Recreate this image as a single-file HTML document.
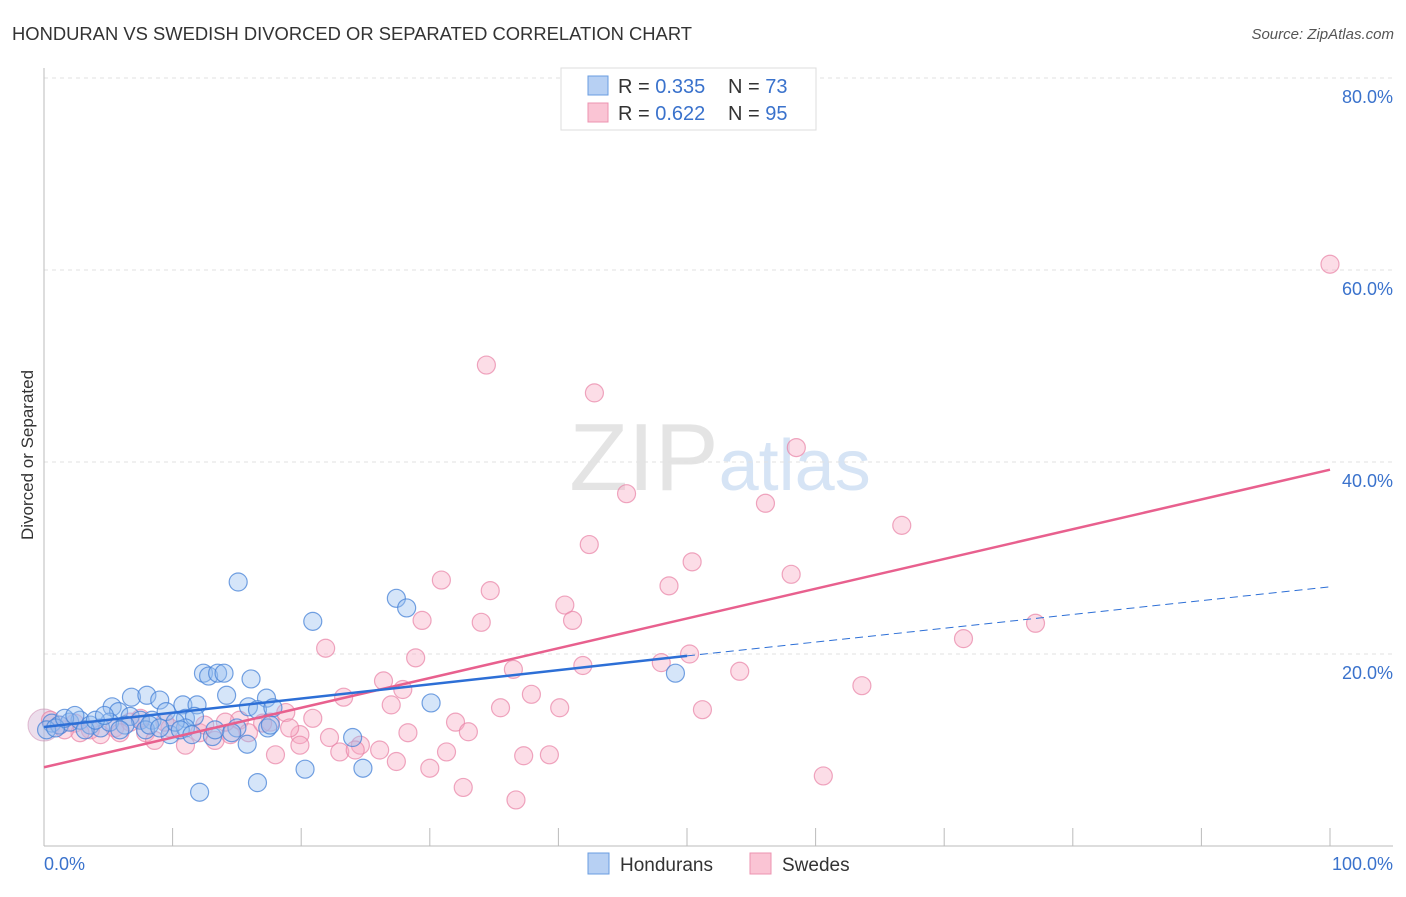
<!DOCTYPE html>
<html><head><meta charset="utf-8"><style>
body{margin:0;background:#fff;font-family:"Liberation Sans",sans-serif;}
svg text{font-family:"Liberation Sans",sans-serif;}
</style></head><body>
<svg id="chart" width="1406" height="892" xmlns="http://www.w3.org/2000/svg">
<text x="12" y="40" font-size="18" fill="#333" textLength="680" lengthAdjust="spacingAndGlyphs">HONDURAN VS SWEDISH DIVORCED OR SEPARATED CORRELATION CHART</text>
<text x="1394" y="39" font-size="15" fill="#555" text-anchor="end" font-style="italic">Source: ZipAtlas.com</text>
<text transform="translate(33,455) rotate(-90)" font-size="17" fill="#333" text-anchor="middle">Divorced or Separated</text>
<text x="720" y="490" font-size="96" fill="#e4e4e4" text-anchor="middle" font-family="Liberation Serif">ZIP<tspan fill="#d6e4f5" font-family="Liberation Sans" font-size="72">atlas</tspan></text>
<g id="grid"></g>
<g id="marks"></g>
<g id="lines"></g>
<g>
<rect x="561" y="68" width="255" height="62" fill="#fff" stroke="#ddd"/>
<rect x="588" y="76" width="20" height="19" fill="#b7d0f3" stroke="#6a9de0"/>
<rect x="588" y="103" width="20" height="19" fill="#fac4d4" stroke="#ec93b0"/>
<text x="618" y="93" font-size="20" fill="#333">R = <tspan fill="#3a72cc">0.335</tspan></text>
<text x="728" y="93" font-size="20" fill="#333">N = <tspan fill="#3a72cc">73</tspan></text>
<text x="618" y="120" font-size="20" fill="#333">R = <tspan fill="#3a72cc">0.622</tspan></text>
<text x="728" y="120" font-size="20" fill="#333">N = <tspan fill="#3a72cc">95</tspan></text>
</g>
<g>
<rect x="588" y="853" width="21" height="21" fill="#b7d0f3" stroke="#6a9de0"/>
<text x="620" y="871" font-size="19" fill="#333">Hondurans</text>
<rect x="750" y="853" width="21" height="21" fill="#fac4d4" stroke="#ec93b0"/>
<text x="782" y="871" font-size="19" fill="#333">Swedes</text>
</g>
</svg>
<script>
const yTicks=[20,40,60,80];
const yTickLabels=["20.0%","40.0%","60.0%","80.0%"];
const xEndLabels=["0.0%","100.0%"];
const blueX=[15.1,20.9,27.4,28.2,12.4,12.8,13.5,14.0,16.1,30.1,49.1,6.8,8.0,9.0,10.8,11.9,14.2,17.3,5.3,5.8,6.7,7.5,8.4,9.5,11.0,11.7,15.9,16.6,17.8,0.6,1.2,2.0,2.8,3.6,4.4,5.1,6.3,7.9,9.8,11.0,13.1,15.0,17.4,15.8,24.0,12.1,16.6,20.3,24.8,0.2,0.9,1.6,2.4,3.2,4.0,5.9,8.2,10.2,13.3,14.6,17.6,10.6,11.5,9.0,4.7];
const blueY=[27.5,23.4,25.8,24.8,18.0,17.7,18.0,18.0,17.4,14.9,18.0,15.5,15.7,15.2,14.7,14.7,15.7,15.4,14.5,14.0,13.5,13.1,13.1,14.0,13.3,13.5,14.5,14.2,14.4,12.8,12.6,12.9,13.1,12.6,12.3,12.9,12.6,12.1,11.6,12.3,11.4,12.3,12.3,10.6,11.3,5.6,6.6,8.0,8.1,12.1,12.3,13.3,13.6,12.1,13.1,12.1,12.6,12.9,12.1,11.8,12.6,12.1,11.6,12.3,13.6];
const pinkX=[100,34.4,42.8,58.5,45.3,56.1,66.7,42.4,50.4,30.9,48.6,58.1,34.7,40.5,29.4,34.0,41.1,77.1,71.5,21.9,28.9,36.5,41.9,48.0,50.2,54.1,63.6,26.4,27.9,23.3,37.9,27.0,35.5,40.1,51.2,32.0,33.0,28.3,18.8,20.9,15.2,17.6,19.9,22.2,24.6,26.1,23.0,19.9,18.0,27.4,30.0,31.3,37.3,39.3,32.6,36.7,60.6,0.5,1.2,2.4,3.6,4.4,5.5,6.7,7.9,8.6,9.8,11.0,12.1,13.3,14.5,15.9,17.0,19.1,7.5,9.4,12.5,5.9,2.8,1.6,14.1,24.2];
const pinkY=[60.6,50.1,47.2,41.5,36.7,35.7,33.4,31.4,29.6,27.7,27.1,28.3,26.6,25.1,23.5,23.3,23.5,23.2,21.6,20.6,19.6,18.4,18.8,19.1,20.0,18.2,16.7,17.2,16.3,15.5,15.8,14.7,14.4,14.4,14.2,12.9,11.9,11.8,13.9,13.3,13.1,12.9,11.6,11.3,10.5,10.0,9.8,10.5,9.5,8.8,8.1,9.8,9.4,9.5,6.1,4.8,7.3,13.1,12.6,12.8,12.1,11.6,12.3,12.9,11.8,11.0,12.3,10.5,11.8,11.0,11.6,11.8,12.8,12.3,13.3,12.9,12.6,11.8,11.8,12.1,12.9,10.0];
const blueFit=[12.4,19.8,27.0];
const pinkFit=[8.2,39.2];
const NS="http://www.w3.org/2000/svg";
const sx=v=>44+v*12.86, sy=v=>846-v*9.6;
function mk(tag,attrs,parent){const e=document.createElementNS(NS,tag);for(const k in attrs)e.setAttribute(k,attrs[k]);parent.appendChild(e);return e;}
const grid=document.getElementById('grid'),marks=document.getElementById('marks'),lines=document.getElementById('lines');
yTicks.forEach((t,i)=>{
 const g=mk('line',{x1:44,x2:1393,y1:sy(t),y2:sy(t),stroke:'#e2e2e2','stroke-dasharray':'4,4'},grid);
 
 
 const tx=mk('text',{x:1393,y:sy(t)+25,'font-size':18,fill:'#3a72cc','text-anchor':'end'},grid);tx.textContent=yTickLabels[i];
 
 
});
const ax=mk('line',{x1:44,x2:1393,y1:846,y2:846,stroke:'#bbb'},grid);


const ay=mk('line',{x1:44,x2:44,y1:68,y2:846,stroke:'#bbb'},grid);


for(let i=1;i<=10;i++){const t=mk('line',{x1:sx(i*10),x2:sx(i*10),y1:828,y2:846,stroke:'#bbb'},grid);
 
 }
[[0,'start',44],[100,'end',1393]].forEach((a,i)=>{const t=mk('text',{x:a[2],y:870,'font-size':18,fill:'#3a72cc','text-anchor':a[1]},grid);t.textContent=xEndLabels[i];
 
 });
const big=mk('circle',{cx:sx(0),cy:sy(12.6),r:16,fill:'rgba(200,160,200,0.35)',stroke:'rgba(200,130,170,0.5)'},marks);


pinkX.forEach((x,i)=>{const c=mk('circle',{cx:sx(x),cy:sy(pinkY[i]),r:9,fill:'rgba(247,170,195,0.4)',stroke:'rgba(232,130,165,0.7)','stroke-width':1.2},marks);
 
 });
blueX.forEach((x,i)=>{const c=mk('circle',{cx:sx(x),cy:sy(blueY[i]),r:9,fill:'rgba(150,190,240,0.4)',stroke:'rgba(70,130,215,0.75)','stroke-width':1.2},marks);
 
 });
const pl=mk('line',{x1:sx(0),y1:sy(pinkFit[0]),x2:sx(100),y2:sy(pinkFit[1]),stroke:'#e8608e','stroke-width':2.5},lines);


const bl=mk('line',{x1:sx(0),y1:sy(blueFit[0]),x2:sx(50),y2:sy(blueFit[1]),stroke:'#2d6fd6','stroke-width':2.5},lines);


const bd=mk('line',{x1:sx(50),y1:sy(blueFit[1]),x2:sx(100),y2:sy(blueFit[2]),stroke:'#2d6fd6','stroke-width':1,'stroke-dasharray':'8,5'},lines);


</script>
</body></html>
